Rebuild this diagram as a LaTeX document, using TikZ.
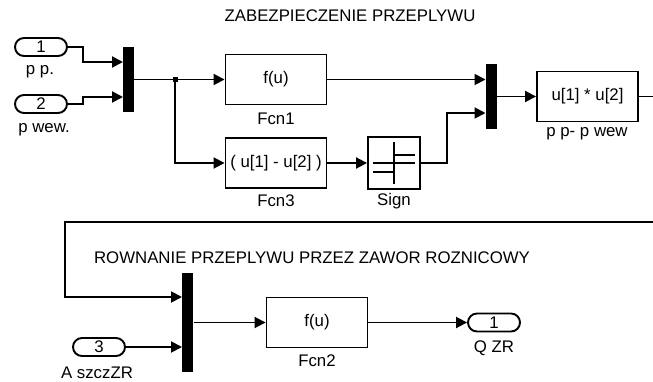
\documentclass[tikz,border=0pt]{standalone}
\usepackage{fontspec}
\setmainfont{Liberation Sans}
\usetikzlibrary{arrows.meta}

\begin{document}
\begin{tikzpicture}[x=1pt,y=-1pt,>={Triangle[length=11pt,width=11pt]},line width=1.9pt,
  every node/.style={font=\fontsize{16.8}{19}\selectfont},
  blk/.style={draw,minimum width=101pt,minimum height=50pt,inner sep=0pt},
  muxbar/.style={fill=black,minimum width=11pt,inner sep=0pt},
  port/.style={draw,rounded corners=9pt,minimum width=52pt,minimum height=18pt,inner sep=0pt},
  lbl/.style={inner sep=0pt}]
  \useasboundingbox (0,0) rectangle (653,381);
  % upper part: protection of the flow
  \node[lbl] (title1) at (350,16) {ZABEZPIECZENIE PRZEPLYWU};
  \node[port] (in1) at (41,47) {1};
  \node[lbl] (in1l) at (40,72) {p p.};
  \node[port] (in2) at (41,104) {2};
  \node[lbl] (in2l) at (44,130) {p wew.};
  \node[muxbar,minimum height=65pt] (mux1) at (128,79.5) {};
  \node[blk] (fcn1) at (276,79.5) {f(u)};
  \node[lbl] (fcn1l) at (276,119) {Fcn1};
  \node[blk] (fcn3) at (276,163) {( u[1] - u[2] )};
  \node[lbl] (fcn3l) at (276,201) {Fcn3};
  \node[draw,minimum width=52pt,minimum height=52pt,inner sep=0pt] (sgn) at (394,163) {};
  \node[lbl] (sgnl) at (394,201) {Sign};
  \node[muxbar,minimum height=65pt] (mux2) at (491,96.5) {};
  \node[blk] (prod) at (587.5,96.5) {u[1] * u[2]};
  \node[lbl] (prodl) at (587,134) {p p- p wew};
  % sign icon
  \draw (373,163) -- (415,163) (394,142) -- (394,184)
        (394,155) -- (415,155) (373,172) -- (394,172);
  % mux inputs
  \coordinate (m1a) at (123,62);
  \coordinate (m1b) at (123,97);
  \coordinate (m2a) at (485.5,79.5);
  \coordinate (m2b) at (485.5,113);
  \coordinate (split) at (175,79.5);
  \coordinate (edgeA) at (653,96.5);
  \draw[->] (in1.east) -- ++(15,0) |- (m1a);
  \draw[->] (in2.east) -- ++(15,0) |- (m1b);
  \draw[->] (mux1.east) -- (fcn1.west);
  \fill (split) ++(-2.5,-2.5) rectangle ++(5,5);
  \draw[->] (split) |- (fcn3.west);
  \draw[->] (fcn3.east) -- (sgn.west);
  \draw[->] (fcn1.east) -- (m2a);
  \draw[->] (sgn.east) -- ++(26,0) |- (m2b);
  \draw[->] (mux2.east) -- (prod.west);
  \draw (prod.east) -- (edgeA);
  % lower part: flow through the differential valve
  \node[lbl] (title2) at (312,258) {ROWNANIE PRZEPLYWU PRZEZ ZAWOR ROZNICOWY};
  \node[muxbar,minimum height=99pt] (mux3) at (187.5,322.5) {};
  \node[blk] (fcn2) at (317,322.5) {f(u)};
  \node[lbl] (fcn2l) at (317,361) {Fcn2};
  \node[port] (in3) at (99,347) {3};
  \node[lbl] (in3l) at (97,372.5) {A szczZR};
  \node[port] (out1) at (494,322.5) {1};
  \node[lbl] (out1l) at (494,348) {Q ZR};
  \coordinate (edgeB) at (653,222);
  \coordinate (m3a) at (182,297);
  \coordinate (m3b) at (182,347);
  \draw[->] (edgeB) -- (65,222) |- (m3a);
  \draw[->] (in3.east) -- (m3b);
  \draw[->] (mux3.east) -- (fcn2.west);
  \draw[->] (fcn2.east) -- (out1.west);
\end{tikzpicture}
\end{document}
